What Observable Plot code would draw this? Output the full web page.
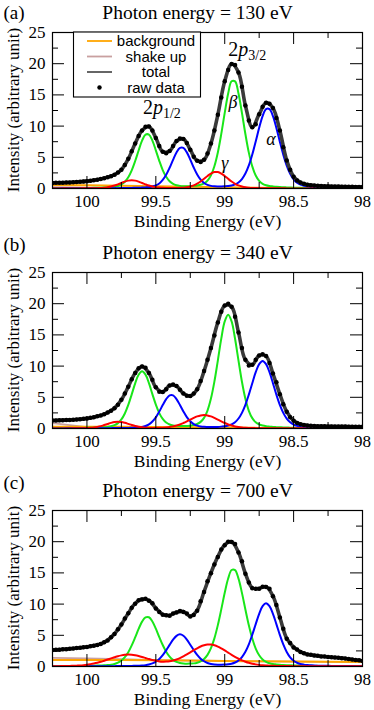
<!DOCTYPE html>
<html>
<head>
<meta charset="utf-8">
<script src="https://cdn.jsdelivr.net/npm/d3@7"></script>
<script src="https://cdn.jsdelivr.net/npm/@observablehq/plot@0.6"></script>
<style>
  html, body { margin: 0; padding: 0; background: #fff; }
  #fig { position: relative; width: 374px; height: 710px; overflow: hidden; background: #fff; }
  #fig svg { position: absolute; left: 0; }
</style>
</head>
<body>
<div id="fig"></div>
<script>
// ---------- shared axes / grids ----------
const bindingEnergy = [100.25, 100.225, 100.2, 100.175, 100.15, 100.125, 100.1, 100.075, 100.05, 100.025,
  100, 99.975, 99.95, 99.925, 99.9, 99.875, 99.85, 99.825, 99.8, 99.775,
  99.75, 99.725, 99.7, 99.675, 99.65, 99.625, 99.6, 99.575, 99.55, 99.525,
  99.5, 99.475, 99.45, 99.425, 99.4, 99.375, 99.35, 99.325, 99.3, 99.275,
  99.25, 99.225, 99.2, 99.175, 99.15, 99.125, 99.1, 99.075, 99.05, 99.025,
  99, 98.975, 98.95, 98.925, 98.9, 98.875, 98.85, 98.825, 98.8, 98.775,
  98.75, 98.725, 98.7, 98.675, 98.65, 98.625, 98.6, 98.575, 98.55, 98.525,
  98.5, 98.475, 98.45, 98.425, 98.4, 98.375, 98.35, 98.325, 98.3, 98.275,
  98.25, 98.225, 98.2, 98.175, 98.15, 98.125, 98.1, 98.075, 98.05, 98.025,
  98];
const fitEnergy = [100.25, 100.2, 100.15, 100.1, 100.05, 100, 99.95, 99.9, 99.85, 99.8,
  99.75, 99.7, 99.65, 99.6, 99.55, 99.5, 99.45, 99.4, 99.35, 99.3,
  99.25, 99.2, 99.15, 99.1, 99.05, 99, 98.95, 98.9, 98.85, 98.8,
  98.75, 98.7, 98.65, 98.6, 98.55, 98.5, 98.45, 98.4, 98.35, 98.3,
  98.25, 98.2, 98.15, 98.1, 98.05, 98];
const backgroundEnergy = [100.25, 100, 99.75, 99.5, 99.25, 99, 98.75, 98.5, 98.25, 98];

const xMajorTicks = [100, 99.5, 99, 98.5, 98];
const xTickLabels = ["100", "99.5", "99", "98.5", "98"];
const xMinorTicks = [99.75, 99.25, 98.75, 98.25];
const yMajorTicks = [0, 5, 10, 15, 20, 25];
const yTickLabels = ["0", "5", "10", "15", "20", "25"];
const yMinorTicks = [2.5, 7.5, 12.5, 17.5, 22.5];

const panelLetters = ["(a)", "(b)", "(c)"];
const photonEnergies = [130, 340, 700];
const xAxisTitle = "Binding Energy (eV)";
const yAxisTitle = "Intensity (arbitrary unit)";

// ---------- panel (a): 130 eV ----------
const rawA = [0.90, 0.91, 0.92, 0.93, 0.95, 0.97, 1.00, 1.03, 1.07, 1.12,
  1.18, 1.25, 1.33, 1.42, 1.53, 1.66, 1.82, 1.95, 2.20, 2.55,
  3.00, 3.75, 4.75, 5.95, 7.20, 8.40, 9.30, 9.90, 9.95, 9.30,
  8.10, 6.80, 5.90, 5.65, 6.00, 6.80, 7.60, 8.00, 7.95, 7.30,
  6.20, 5.10, 4.45, 4.25, 4.60, 5.60, 7.20, 9.30, 11.80, 14.60,
  17.20, 19.00, 19.95, 19.80, 18.60, 16.30, 13.30, 10.90, 9.80, 10.30,
  11.90, 13.10, 13.75, 13.60, 12.90, 11.30, 9.30, 6.60, 4.50, 3.00,
  1.90, 1.30, 0.95, 0.75, 0.62, 0.54, 0.48, 0.44, 0.41, 0.38,
  0.36, 0.34, 0.32, 0.31, 0.30, 0.29, 0.28, 0.27, 0.26, 0.25,
  0.25];
const totalA = [0.90, 0.92, 0.95, 1.00, 1.07, 1.18, 1.33, 1.53, 1.82, 2.20,
  3.00, 4.75, 7.20, 9.30, 9.95, 8.10, 5.90, 6.00, 7.60, 7.95,
  6.20, 4.45, 4.60, 7.20, 11.80, 17.20, 19.95, 18.60, 13.30, 9.80,
  11.90, 13.75, 12.90, 9.30, 4.50, 1.90, 0.95, 0.62, 0.48, 0.41,
  0.36, 0.32, 0.30, 0.28, 0.26, 0.25];
const greenA = [0.05, 0.05, 0.05, 0.06, 0.06, 0.06, 0.07, 0.07, 0.08, 0.08,
  0.09, 0.10, 0.11, 0.12, 0.14, 0.16, 0.19, 0.22, 0.29, 0.40,
  0.64, 1.07, 1.80, 2.91, 4.40, 6.09, 7.66, 8.63, 8.64, 7.68,
  6.12, 4.44, 2.96, 1.87, 1.15, 0.73, 0.52, 0.42, 0.38, 0.38,
  0.38, 0.42, 0.48, 0.59, 0.81, 1.27, 2.11, 3.57, 5.78, 8.75,
  12.12, 15.23, 17.18, 17.17, 15.22, 12.11, 8.73, 5.75, 3.54, 2.08,
  1.22, 0.75, 0.52, 0.40, 0.33, 0.27, 0.23, 0.20, 0.18, 0.16,
  0.14, 0.13, 0.12, 0.11, 0.10, 0.09, 0.08, 0.08, 0.07, 0.07,
  0.06, 0.06, 0.06, 0.05, 0.05, 0.05, 0.05, 0.04, 0.04, 0.04,
  0.04];
const blueA = [0.02, 0.02, 0.02, 0.03, 0.03, 0.03, 0.03, 0.03, 0.04, 0.04,
  0.04, 0.04, 0.04, 0.05, 0.05, 0.05, 0.05, 0.05, 0.06, 0.06,
  0.07, 0.08, 0.09, 0.10, 0.11, 0.12, 0.15, 0.18, 0.22, 0.31,
  0.49, 0.81, 1.37, 2.20, 3.32, 4.60, 5.77, 6.51, 6.52, 5.79,
  4.63, 3.36, 2.25, 1.43, 0.89, 0.58, 0.42, 0.35, 0.33, 0.33,
  0.35, 0.39, 0.48, 0.66, 0.97, 1.52, 2.40, 3.70, 5.45, 7.53,
  9.72, 11.61, 12.72, 12.72, 11.60, 9.71, 7.51, 5.43, 3.68, 2.37,
  1.48, 0.93, 0.61, 0.43, 0.33, 0.27, 0.23, 0.20, 0.18, 0.16,
  0.14, 0.13, 0.12, 0.11, 0.10, 0.10, 0.09, 0.09, 0.08, 0.08,
  0.07];
const redA = [0.01, 0.01, 0.01, 0.02, 0.02, 0.02, 0.02, 0.02, 0.02, 0.03,
  0.03, 0.03, 0.04, 0.06, 0.08, 0.13, 0.20, 0.31, 0.47, 0.66,
  0.88, 1.10, 1.26, 1.32, 1.26, 1.10, 0.89, 0.67, 0.47, 0.32,
  0.21, 0.15, 0.11, 0.09, 0.08, 0.08, 0.09, 0.11, 0.14, 0.20,
  0.32, 0.50, 0.77, 1.13, 1.55, 2.01, 2.40, 2.63, 2.63, 2.40,
  2.01, 1.55, 1.12, 0.76, 0.49, 0.31, 0.19, 0.13, 0.09, 0.07,
  0.06, 0.05, 0.04, 0.04, 0.03, 0.03, 0.03, 0.03, 0.02, 0.02,
  0.02, 0.02, 0.02, 0.02, 0.02, 0.02, 0.02, 0.01, 0.01, 0.01,
  0.01, 0.01, 0.01, 0.01, 0.01, 0.01, 0.01, 0.01, 0.01, 0.01,
  0.01];
const backgroundA = [0.55, 0.52, 0.46, 0.38, 0.30, 0.22, 0.12, 0.06, 0.05, 0.05];
const shakeUpA = [0.20, 0.15, 0.10, 0.06, 0.04, 0.02, 0.01, 0.01, 0.00, 0.00];

// ---------- panel (b): 340 eV ----------
const rawB = [1.29, 1.30, 1.31, 1.33, 1.35, 1.37, 1.40, 1.44, 1.49, 1.55,
  1.62, 1.71, 1.82, 1.95, 2.10, 2.30, 2.55, 2.85, 3.25, 3.80,
  4.60, 5.60, 6.70, 7.90, 8.90, 9.65, 9.95, 9.75, 8.90, 7.80,
  6.60, 5.90, 5.85, 6.30, 6.90, 7.05, 6.80, 6.20, 5.60, 5.25,
  5.20, 5.60, 6.30, 7.60, 9.20, 11.00, 12.90, 14.90, 17.00, 18.70,
  19.70, 20.00, 19.50, 17.90, 15.40, 12.90, 11.00, 10.10, 10.20, 11.00,
  11.70, 11.90, 11.60, 10.50, 8.80, 7.40, 5.50, 3.90, 2.70, 1.80,
  1.25, 0.90, 0.68, 0.56, 0.48, 0.43, 0.40, 0.38, 0.36, 0.35,
  0.34, 0.33, 0.32, 0.32, 0.31, 0.31, 0.30, 0.30, 0.29, 0.29,
  0.28];
const totalB = [1.29, 1.31, 1.35, 1.40, 1.49, 1.62, 1.82, 2.10, 2.55, 3.25,
  4.60, 6.70, 8.90, 9.95, 8.90, 6.60, 5.85, 6.90, 6.80, 5.60,
  5.20, 6.30, 9.20, 12.90, 17.00, 19.70, 19.50, 15.40, 11.00, 10.20,
  11.70, 11.60, 8.80, 5.50, 2.70, 1.25, 0.68, 0.48, 0.40, 0.36,
  0.34, 0.32, 0.31, 0.30, 0.29, 0.28];
const greenB = [0.05, 0.05, 0.06, 0.06, 0.06, 0.07, 0.07, 0.08, 0.09, 0.10,
  0.11, 0.12, 0.14, 0.15, 0.18, 0.21, 0.26, 0.35, 0.53, 0.86,
  1.45, 2.41, 3.78, 5.47, 7.23, 8.62, 9.16, 8.64, 7.26, 5.51,
  3.83, 2.47, 1.53, 0.95, 0.64, 0.49, 0.42, 0.39, 0.39, 0.41,
  0.45, 0.55, 0.72, 1.06, 1.70, 2.88, 4.79, 7.51, 10.89, 14.40,
  17.16, 18.24, 17.16, 14.39, 10.88, 7.49, 4.76, 2.84, 1.66, 1.00,
  0.66, 0.47, 0.36, 0.30, 0.26, 0.22, 0.19, 0.17, 0.16, 0.14,
  0.13, 0.12, 0.10, 0.10, 0.09, 0.08, 0.07, 0.07, 0.06, 0.06,
  0.055, 0.05, 0.05, 0.05, 0.045, 0.04, 0.04, 0.04, 0.04, 0.035,
  0.035];
const blueB = [0.02, 0.02, 0.02, 0.02, 0.03, 0.03, 0.03, 0.03, 0.03, 0.04,
  0.04, 0.04, 0.04, 0.04, 0.05, 0.05, 0.05, 0.06, 0.07, 0.07,
  0.08, 0.09, 0.10, 0.12, 0.14, 0.18, 0.25, 0.40, 0.66, 1.11,
  1.79, 2.71, 3.75, 4.71, 5.31, 5.32, 4.72, 3.77, 2.74, 1.83,
  1.16, 0.71, 0.46, 0.33, 0.27, 0.25, 0.24, 0.24, 0.26, 0.30,
  0.35, 0.46, 0.66, 1.01, 1.60, 2.51, 3.80, 5.43, 7.26, 9.02,
  10.32, 10.82, 10.32, 9.02, 7.26, 5.42, 3.79, 2.50, 1.59, 0.99,
  0.63, 0.43, 0.31, 0.25, 0.20, 0.17, 0.15, 0.14, 0.12, 0.11,
  0.10, 0.10, 0.09, 0.09, 0.08, 0.08, 0.07, 0.07, 0.065, 0.06,
  0.06];
const redB = [0.02, 0.02, 0.02, 0.02, 0.02, 0.02, 0.03, 0.03, 0.04, 0.05,
  0.07, 0.11, 0.17, 0.26, 0.38, 0.55, 0.73, 0.90, 1.03, 1.08,
  1.04, 0.91, 0.74, 0.56, 0.40, 0.28, 0.19, 0.13, 0.10, 0.09,
  0.10, 0.11, 0.14, 0.18, 0.24, 0.34, 0.48, 0.65, 0.88, 1.14,
  1.42, 1.70, 1.94, 2.10, 2.16, 2.10, 1.94, 1.70, 1.42, 1.14,
  0.88, 0.65, 0.47, 0.33, 0.23, 0.165, 0.12, 0.09, 0.07, 0.06,
  0.05, 0.045, 0.04, 0.04, 0.035, 0.035, 0.03, 0.03, 0.03, 0.03,
  0.025, 0.025, 0.025, 0.02, 0.02, 0.02, 0.02, 0.02, 0.02, 0.02,
  0.015, 0.015, 0.015, 0.015, 0.015, 0.015, 0.015, 0.015, 0.015, 0.015,
  0.01];
const backgroundB = [0.30, 0.30, 0.28, 0.25, 0.20, 0.15, 0.10, 0.06, 0.05, 0.05];
const shakeUpB = [0.85, 0.22, 0.08, 0.05, 0.04, 0.03, 0.02, 0.01, 0.01, 0.01];

// ---------- panel (c): 700 eV ----------
const rawC = [2.63, 2.68, 2.69, 2.75, 2.77, 2.84, 2.87, 2.95, 2.99, 3.07,
  3.13, 3.25, 3.34, 3.46, 3.60, 3.88, 4.18, 4.68, 5.22, 5.97,
  6.72, 7.68, 8.52, 9.43, 10.05, 10.60, 10.75, 10.85, 10.55, 10.15,
  9.30, 8.75, 8.30, 8.20, 8.15, 8.50, 8.65, 8.90, 8.75, 8.50,
  8.00, 8.25, 8.95, 10.45, 11.95, 13.65, 14.95, 16.35, 17.55, 18.75,
  19.45, 20.00, 19.95, 19.65, 18.25, 16.85, 14.85, 13.45, 12.55, 12.45,
  12.45, 12.80, 12.75, 12.45, 11.25, 9.85, 7.85, 6.05, 4.45, 3.75,
  3.05, 2.72, 2.33, 2.12, 1.93, 1.87, 1.76, 1.72, 1.62, 1.59,
  1.52, 1.50, 1.44, 1.41, 1.34, 1.29, 1.19, 1.13, 1.04, 0.99,
  0.90];
const totalC = [2.63, 2.70, 2.78, 2.88, 3.00, 3.14, 3.35, 3.62, 4.20, 5.25,
  6.75, 8.55, 10.10, 10.80, 10.60, 9.35, 8.35, 8.20, 8.70, 8.80,
  8.05, 9.00, 12.00, 15.00, 17.60, 19.50, 20.00, 18.30, 14.90, 12.60,
  12.50, 12.80, 11.30, 7.90, 4.50, 3.10, 2.35, 1.95, 1.78, 1.64,
  1.53, 1.45, 1.35, 1.20, 1.05, 0.90];
const greenC = [0.05, 0.05, 0.06, 0.06, 0.06, 0.07, 0.08, 0.09, 0.09, 0.10,
  0.11, 0.12, 0.13, 0.15, 0.17, 0.19, 0.23, 0.29, 0.41, 0.61,
  0.95, 1.50, 2.30, 3.39, 4.67, 6.02, 7.19, 7.88, 7.89, 7.21,
  6.06, 4.72, 3.45, 2.38, 1.59, 1.06, 0.73, 0.56, 0.48, 0.45,
  0.47, 0.50, 0.61, 0.82, 1.20, 1.86, 2.93, 4.51, 6.63, 9.15,
  11.81, 14.10, 15.46, 15.45, 14.09, 11.80, 9.13, 6.60, 4.48, 2.88,
  1.81, 1.13, 0.74, 0.52, 0.39, 0.33, 0.28, 0.24, 0.21, 0.19,
  0.17, 0.16, 0.14, 0.13, 0.12, 0.11, 0.10, 0.10, 0.09, 0.09,
  0.08, 0.08, 0.075, 0.07, 0.07, 0.065, 0.06, 0.06, 0.06, 0.055,
  0.055];
const blueC = [0.02, 0.02, 0.02, 0.03, 0.03, 0.03, 0.03, 0.03, 0.03, 0.03,
  0.035, 0.04, 0.04, 0.04, 0.045, 0.05, 0.05, 0.055, 0.06, 0.07,
  0.07, 0.08, 0.09, 0.10, 0.11, 0.13, 0.16, 0.22, 0.32, 0.49,
  0.77, 1.20, 1.81, 2.59, 3.46, 4.29, 4.91, 5.15, 4.93, 4.31,
  3.49, 2.62, 1.86, 1.26, 0.84, 0.57, 0.41, 0.32, 0.29, 0.29,
  0.31, 0.36, 0.45, 0.64, 0.97, 1.51, 2.36, 3.56, 5.09, 6.80,
  8.44, 9.67, 10.13, 9.66, 8.43, 6.79, 5.07, 3.54, 2.34, 1.48,
  0.93, 0.60, 0.40, 0.30, 0.24, 0.19, 0.16, 0.14, 0.13, 0.12,
  0.11, 0.10, 0.09, 0.085, 0.08, 0.075, 0.07, 0.065, 0.06, 0.055,
  0.05];
const redC = [0.05, 0.05, 0.06, 0.07, 0.08, 0.09, 0.11, 0.14, 0.17, 0.22,
  0.29, 0.38, 0.48, 0.60, 0.75, 0.93, 1.11, 1.30, 1.48, 1.65,
  1.78, 1.87, 1.91, 1.88, 1.80, 1.68, 1.53, 1.36, 1.19, 1.05,
  0.91, 0.82, 0.78, 0.79, 0.84, 0.96, 1.12, 1.34, 1.62, 1.93,
  2.26, 2.61, 2.92, 3.21, 3.40, 3.52, 3.51, 3.40, 3.19, 2.90,
  2.58, 2.22, 1.87, 1.55, 1.24, 0.98, 0.77, 0.59, 0.45, 0.34,
  0.26, 0.20, 0.16, 0.13, 0.11, 0.10, 0.085, 0.075, 0.07, 0.065,
  0.06, 0.055, 0.05, 0.05, 0.05, 0.045, 0.045, 0.04, 0.04, 0.04,
  0.035, 0.035, 0.035, 0.03, 0.03, 0.03, 0.03, 0.03, 0.025, 0.025,
  0.025];
const backgroundC = [1.05, 1.05, 1.03, 1.00, 0.95, 0.90, 0.85, 0.80, 0.75, 0.72];
const shakeUpC = [1.38, 1.30, 1.18, 1.02, 0.94, 0.88, 0.83, 0.78, 0.74, 0.71];

// ---------- annotations (panel a) ----------
const orbitalLabels = ["2p", "2p"];
const orbitalSubscripts = ["3/2", "1/2"];
const orbitalEnergy = [98.97, 99.59];
const orbitalIntensity = [21.1, 11.9];
const componentLabels = ["\u03b2", "\u03b1", "\u03b3"];
const componentEnergy = [98.94, 98.665, 99.0];
const componentIntensity = [13.9, 7.9, 4.1];

const legendLabels = ["background", "shake up", "total", "raw data"];
const legendColors = ["#ffa500", "#c9a0a0", "#555555", "#000000"];

// ---------- build ----------
const panels = [
  {raw: rawA, total: totalA, green: greenA, blue: blueA, red: redA, background: backgroundA, shakeUp: shakeUpA},
  {raw: rawB, total: totalB, green: greenB, blue: blueB, red: redB, background: backgroundB, shakeUp: shakeUpB},
  {raw: rawC, total: totalC, green: greenC, blue: blueC, red: redC, background: backgroundC, shakeUp: shakeUpC}
];
const layout = [
  {top: 0, marginTop: 32, height: 232, letterDy: -20},
  {top: 232, marginTop: 40, height: 238, letterDy: -27.5},
  {top: 470, marginTop: 40, height: 240, letterDy: -27.5}
];
const serif = "'Liberation Serif', 'Times New Roman', Times, serif";
const sans = "'Liberation Sans', Arial, Helvetica, sans-serif";
const rows = (xs, ys) => xs.map((e, i) => ({energy: e, intensity: ys[i]}));

const fig = document.getElementById("fig");

panels.forEach((P, k) => {
  const L = layout[k];
  const curve = (xs, ys, stroke, w, c) => Plot.line(rows(xs, ys), {
    x: "energy", y: "intensity", stroke, strokeWidth: w, curve: c || "catmull-rom", clip: true
  });
  const chart = Plot.plot({
    width: 374,
    height: L.height,
    marginTop: L.marginTop,
    marginBottom: L.height - L.marginTop - 156,
    marginLeft: 52,
    marginRight: 12,
    style: {fontFamily: serif, fontSize: "17px", color: "#000", background: "transparent", overflow: "visible"},
    x: {domain: [100.25, 98], axis: null},
    y: {domain: [0, 25], axis: null},
    marks: [
      curve(backgroundEnergy, P.shakeUp, "#c9a0a0", 1.8, "linear"),
      curve(backgroundEnergy, P.background, "#ffa500", 2, "linear"),
      curve(bindingEnergy, P.green, "#19e619", 2),
      curve(bindingEnergy, P.blue, "#0000ff", 2),
      curve(bindingEnergy, P.red, "#ff0000", 2),
      curve(fitEnergy, P.total, "#3a3a3a", 3.6),
      Plot.dot(rows(bindingEnergy, P.raw), {x: "energy", y: "intensity", r: 2.25, fill: "#000", stroke: null, clip: true}),
      // inward ticks
      Plot.tickX(xMajorTicks, {x: d => d, insetTop: 144, stroke: "#000"}),
      Plot.tickX(xMajorTicks, {x: d => d, insetBottom: 144, stroke: "#000"}),
      Plot.tickX(xMinorTicks, {x: d => d, insetTop: 150, stroke: "#000"}),
      Plot.tickX(xMinorTicks, {x: d => d, insetBottom: 150, stroke: "#000"}),
      Plot.tickY(yMajorTicks, {y: d => d, insetRight: 298, stroke: "#000"}),
      Plot.tickY(yMajorTicks, {y: d => d, insetLeft: 298, stroke: "#000"}),
      Plot.tickY(yMinorTicks, {y: d => d, insetRight: 304, stroke: "#000"}),
      Plot.tickY(yMinorTicks, {y: d => d, insetLeft: 304, stroke: "#000"}),
      Plot.frame({stroke: "#000", strokeWidth: 1.2}),
      // tick labels
      Plot.text(xMajorTicks, {x: d => d, text: (d, i) => xTickLabels[i], frameAnchor: "bottom", dy: 13, lineAnchor: "middle", fontSize: 17}),
      Plot.text(yMajorTicks, {y: d => d, text: (d, i) => yTickLabels[i], frameAnchor: "left", dx: -7, textAnchor: "end", fontSize: 17}),
      // x axis title
      Plot.text([xAxisTitle], {text: d => d, frameAnchor: "bottom", dy: 33, lineAnchor: "middle", fontSize: 17.5}),
      // panel title and letter
      Plot.text([`Photon energy = ${photonEnergies[k]} eV`], {text: d => d, frameAnchor: "top", dx: -10, dy: -20, lineAnchor: "middle", fontSize: 19.5}),
      Plot.text([panelLetters[k]], {text: d => d, frameAnchor: "top-left", dx: -49, dy: L.letterDy, textAnchor: "start", lineAnchor: "middle", fontSize: 19}),
      ...(k === 0 ? [
        Plot.text(componentLabels, {x: (d, i) => componentEnergy[i], y: (d, i) => componentIntensity[i], text: d => d,
          fontStyle: "italic", fontSize: 18, lineAnchor: "middle", textAnchor: "middle"})
      ] : [])
    ]
  });
  chart.style.top = L.top + "px";
  fig.appendChild(chart);

  const svg = d3.select(chart);
  const sy = chart.scale("y");
  // rotated y axis title, centred on the frame
  const midY = (sy.apply(0) + sy.apply(25)) / 2;
  svg.append("text")
    .attr("transform", `translate(13.5,${midY}) rotate(-90)`)
    .attr("text-anchor", "middle")
    .attr("dy", "0.32em")
    .attr("font-family", serif)
    .attr("font-size", 17)
    .attr("fill", "#000")
    .text(yAxisTitle);

  if (k === 0) {
    const sx = chart.scale("x");
    orbitalLabels.forEach((lab, i) => {
      const t = svg.append("text")
        .attr("x", sx.apply(orbitalEnergy[i]))
        .attr("y", sy.apply(orbitalIntensity[i]))
        .attr("text-anchor", "start")
        .attr("font-family", serif)
        .attr("font-size", 20)
        .attr("fill", "#000");
      t.append("tspan").text(lab[0]);
      t.append("tspan").attr("font-style", "italic").text(lab.slice(1));
      t.append("tspan").attr("font-size", 14).attr("dy", 4).text(orbitalSubscripts[i]);
    });
    const g = svg.append("g").attr("font-family", sans).attr("font-size", 15);
    g.append("rect").attr("x", 73.5).attr("y", 32).attr("width", 127).attr("height", 65)
      .attr("fill", "#fff").attr("stroke", "#000").attr("stroke-width", 1.1);
    const baselines = [46, 61.5, 77, 92.5];
    legendLabels.forEach((lab, i) => {
      const cy = baselines[i] - 5;
      if (i < 3) {
        g.append("line").attr("x1", 87).attr("x2", 112).attr("y1", cy).attr("y2", cy)
          .attr("stroke", legendColors[i]).attr("stroke-width", 1.8);
      } else {
        g.append("circle").attr("cx", 99.5).attr("cy", cy).attr("r", 2.2).attr("fill", legendColors[i]);
      }
      g.append("text").attr("x", 156).attr("y", baselines[i]).attr("text-anchor", "middle")
        .attr("fill", "#000").text(lab);
    });
  }
});
</script>
</body>
</html>
